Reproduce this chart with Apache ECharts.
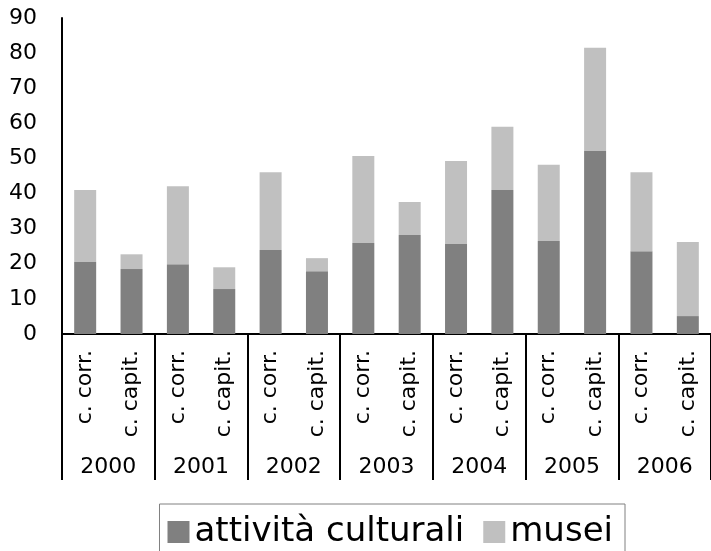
<!DOCTYPE html>
<html>
<head>
<meta charset="utf-8">
<script src="https://cdn.jsdelivr.net/npm/echarts@6/dist/echarts.min.js"></script>
<style>
  html, body { margin: 0; padding: 0; background: #fff; }
  #chart { width: 711px; height: 551px; }
</style>
</head>
<body>
<div id="chart"></div>
<script>
// Years and expenditure type per year
var years = ['2000', '2001', '2002', '2003', '2004', '2005', '2006'];
var types = ['c. corr.', 'c. capit.'];

// Stacked values, one per year/type pair
var attivitaCulturali = [20.5, 18.5, 19.9, 12.8, 23.9, 17.9, 25.9, 28.2, 25.6, 41.0, 26.5, 52.1, 23.6, 5.1];
var musei = [20.5, 4.2, 22.2, 6.2, 22.2, 3.7, 24.8, 9.4, 23.7, 18.0, 21.7, 29.4, 22.5, 21.1];

// Value axis ticks
var yMin = 0, yMax = 90, yStep = 10;

var FONT = 'DejaVu Sans';
var categories = [];
years.forEach(function () { types.forEach(function (t) { categories.push(t); }); });

var chart = echarts.init(document.getElementById('chart'), null, { renderer: 'canvas' });
chart.setOption({
  animation: false,
  backgroundColor: '#ffffff',
  textStyle: { fontFamily: FONT },
  grid: { left: 62, right: -7, top: 18, bottom: 217, containLabel: false },
  legend: {
    data: ['attività culturali', 'musei'],
    right: 86, top: 504,
    orient: 'horizontal',
    icon: 'rect',
    itemWidth: 22, itemHeight: 22, itemGap: 19,
    padding: [11, 12, 11, 8],
    borderColor: '#808080', borderWidth: 1,
    textStyle: { fontFamily: FONT, fontSize: 34, color: '#000' }
  },
  xAxis: [
    {
      type: 'category',
      data: categories,
      axisLine: { show: true, lineStyle: { color: '#000', width: 2 } },
      axisTick: { show: false },
      axisLabel: { interval: 0, rotate: 90, margin: 16, fontFamily: FONT, fontSize: 22, color: '#000' },
      splitLine: { show: false }
    },
    {
      type: 'category',
      data: years,
      position: 'bottom',
      axisLine: { show: false },
      axisTick: { show: true, interval: 0, length: 146, lineStyle: { color: '#000', width: 2 } },
      axisLabel: { interval: 0, margin: 122, fontFamily: FONT, fontSize: 22, color: '#000' },
      splitLine: { show: false }
    }
  ],
  yAxis: {
    type: 'value',
    min: yMin, max: yMax, interval: yStep,
    axisLine: { show: true, lineStyle: { color: '#000', width: 2 } },
    axisTick: { show: false },
    splitLine: { show: false },
    axisLabel: { margin: 25, padding: [5, 0, 0, 0], fontFamily: FONT, fontSize: 22, color: '#000' }
  },
  series: [
    {
      name: 'attività culturali', type: 'bar', stack: 'tot', xAxisIndex: 0,
      data: attivitaCulturali, barWidth: 22,
      itemStyle: { color: '#808080' }
    },
    {
      name: 'musei', type: 'bar', stack: 'tot', xAxisIndex: 0,
      data: musei, barWidth: 22,
      itemStyle: { color: '#c0c0c0' }
    }
  ]
});
</script>
</body>
</html>
